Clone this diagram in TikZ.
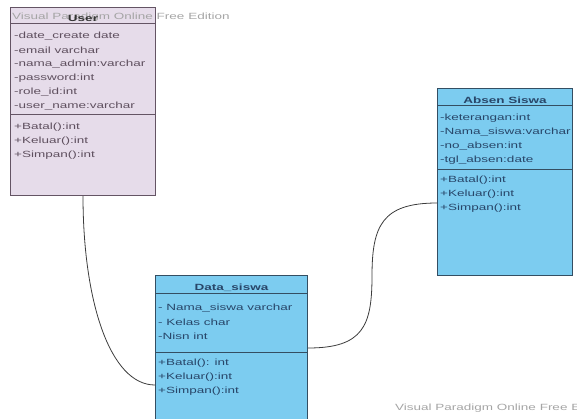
\documentclass[tikz,border=0pt]{standalone}
\usepackage{fontspec}
\setmainfont[FakeStretch=1.5]{Liberation Sans}
\usetikzlibrary{positioning,calc}
\definecolor{userfill}{RGB}{230,220,234}
\definecolor{userline}{RGB}{100,84,100}
\definecolor{usertext}{RGB}{95,80,95}
\definecolor{blufill}{RGB}{124,204,240}
\definecolor{bluline}{RGB}{52,78,98}
\definecolor{blutext}{RGB}{40,70,105}
\definecolor{wmark}{RGB}{165,165,165}
\definecolor{wirecol}{RGB}{60,60,60}
\tikzset{
    x=1pt,
    y=1pt,
    on grid,
    node distance=14pt,
    classbox/.style = {
        draw,
        shape=rectangle,
        anchor=north west,
        inner sep=0pt,
        line width=1pt
    },
    userbox/.style = {
        classbox,
        draw=userline,
        fill=userfill
    },
    blubox/.style = {
        classbox,
        draw=bluline,
        fill=blufill
    },
    classtitle/.style = {
        font=\fontsize{9}{11}\selectfont\bfseries,
        inner sep=0pt
    },
    member/.style = {
        font=\fontsize{9}{11}\selectfont,
        inner sep=0pt
    },
    nextline/.style = {
        below=14pt of #1.west,
        anchor=west
    },
    watermark/.style = {
        font=\fontsize{9}{11}\selectfont,
        text=wmark,
        inner sep=0pt,
        anchor=west
    },
    wire/.style = {
        draw=wirecol,
        line width=0.8pt
    },
}

\begin{document}
\begin{tikzpicture}
        \useasboundingbox (0,0) rectangle (577,-418);
        \clip (0,0) rectangle (577,-418);

        % class User
        \node[userbox, minimum width=145pt, minimum height=188pt] (user) at (10,-7) {};
        \draw[userline, line width=1pt] ($(user.north west)+(0,-16)$) -- ($(user.north east)+(0,-16)$);
        \draw[userline, line width=1pt] ($(user.north west)+(0,-107)$) -- ($(user.north east)+(0,-107)$);
        \node[watermark] (wmTop) at (12,-17) {Visual Paradigm Online Free Edition};
        \node[classtitle, text=black!80, below=8pt of user.north] (userT) {User};
        \node[member, text=usertext, below right=29pt and 4pt of user.north west, anchor=west] (userA1) {-date\_create date};
        \node[member, text=usertext, nextline=userA1] (userA2) {-email varchar};
        \node[member, text=usertext, nextline=userA2] (userA3) {-nama\_admin:varchar};
        \node[member, text=usertext, nextline=userA3] (userA4) {-password:int};
        \node[member, text=usertext, nextline=userA4] (userA5) {-role\_id:int};
        \node[member, text=usertext, nextline=userA5] (userA6) {-user\_name:varchar};
        \node[member, text=usertext, below=21pt of userA6.west, anchor=west] (userM1) {+Batal():int};
        \node[member, text=usertext, nextline=userM1] (userM2) {+Keluar():int};
        \node[member, text=usertext, nextline=userM2] (userM3) {+Simpan():int};

        % class Absen Siswa
        \node[blubox, minimum width=135pt, minimum height=187pt] (absen) at (437,-88) {};
        \draw[bluline, line width=1pt] ($(absen.north west)+(0,-17)$) -- ($(absen.north east)+(0,-17)$);
        \draw[bluline, line width=1pt] ($(absen.north west)+(0,-81)$) -- ($(absen.north east)+(0,-81)$);
        \node[classtitle, text=blutext, below=8.5pt of absen.north] (absenT) {Absen Siswa};
        \node[member, text=blutext, below right=30pt and 3pt of absen.north west, anchor=west] (absenA1) {-keterangan:int};
        \node[member, text=blutext, nextline=absenA1] (absenA2) {-Nama\_siswa:varchar};
        \node[member, text=blutext, nextline=absenA2] (absenA3) {-no\_absen:int};
        \node[member, text=blutext, nextline=absenA3] (absenA4) {-tgl\_absen:date};
        \node[member, text=blutext, below=20pt of absenA4.west, anchor=west] (absenM1) {+Batal():int};
        \node[member, text=blutext, nextline=absenM1] (absenM2) {+Keluar():int};
        \node[member, text=blutext, nextline=absenM2] (absenM3) {+Simpan():int};

        % class Data_siswa
        \node[blubox, minimum width=152pt, minimum height=160pt] (data) at (155,-275) {};
        \draw[bluline, line width=1pt] ($(data.north west)+(0,-18)$) -- ($(data.north east)+(0,-18)$);
        \draw[bluline, line width=1pt] ($(data.north west)+(0,-77)$) -- ($(data.north east)+(0,-77)$);
        \node[classtitle, text=blutext, below=9pt of data.north] (dataT) {Data\_siswa};
        \node[member, text=blutext, below right=33pt and 3pt of data.north west, anchor=west] (dataA1) {- Nama\_siswa varchar};
        \node[member, text=blutext, nextline=dataA1] (dataA2) {- Kelas char};
        \node[member, text=blutext, nextline=dataA2] (dataA3) {-Nisn int};
        \node[member, text=blutext, below=27pt of dataA3.west, anchor=west] (dataM1) {+Batal(): int};
        \node[member, text=blutext, nextline=dataM1] (dataM2) {+Keluar():int};
        \node[member, text=blutext, nextline=dataM2] (dataM3) {+Simpan():int};

        \node[watermark] (wmBot) at (395,-408) {Visual Paradigm Online Free Edition};

        % connectors
        \coordinate (dataIn) at ($(data.north west)+(0,-110)$);
        \coordinate (dataOut) at ($(data.north east)+(0,-73)$);
        \coordinate (absenIn) at ($(absen.north west)+(0,-115)$);
        \coordinate (bend) at (372,-276);

        \path[wire] (user.south) .. controls +(0,-105) and +(-45,0) .. (dataIn);
        \path[wire] (dataOut) .. controls +(55,0) and +(0,-50) .. (bend)
            .. controls +(0,50) and +(-55,0) .. (absenIn);
    \end{tikzpicture}
\end{document}
